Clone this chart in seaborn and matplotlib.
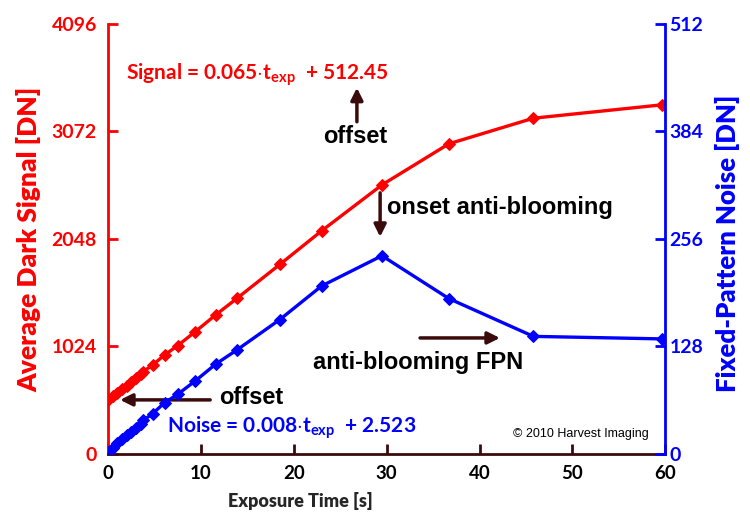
import numpy as np
import pandas as pd
import seaborn as sns
import matplotlib.pyplot as plt

sns.set_style("ticks")
plt.rcParams['font.family'] = ['Lato', 'DejaVu Sans']
plt.rcParams['mathtext.fontset'] = 'custom'
plt.rcParams['mathtext.rm'] = 'Lato:bold'
plt.rcParams['mathtext.bf'] = 'Lato:bold'

# exposure time [s]
t_exp = [0, 0.5, 1, 1.5, 2, 2.5, 3, 3.5, 3.8, 4.8, 6.1, 7.5, 9.4, 11.6, 13.9,
         18.5, 23, 29.5, 36.7, 45.8, 59.6]
# average dark signal [DN]
dark_signal = [512, 548, 583, 618, 652, 687, 722, 757, 784, 848, 943, 1032, 1165,
               1325, 1483, 1805, 2125, 2563, 2954, 3198, 3325]
# fixed-pattern noise [DN]
fpn = [2.5, 7.5, 12.5, 17.5, 22, 26.5, 31, 36, 40, 48, 61, 71, 87, 107, 124,
       160, 200, 236, 185, 140, 137]

x_ticks = [0, 10, 20, 30, 40, 50, 60]
left_ticks = [0, 1024, 2048, 3072, 4096]
right_ticks = [0, 128, 256, 384, 512]

RED = '#ff0000'
BLUE = '#0000ff'
DARK = '#3b0b0b'

df = pd.DataFrame({'t': t_exp, 'signal': dark_signal, 'fpn': fpn})

fig = plt.figure(figsize=(7.5, 5.2), dpi=100)
ax = fig.add_axes([0.144, 0.127, 0.743, 0.827])
ax2 = ax.twinx()

sns.lineplot(data=df, x='t', y='signal', ax=ax, color=RED, marker='D', markersize=6,
             markeredgecolor=RED, linewidth=2.4)
sns.lineplot(data=df, x='t', y='fpn', ax=ax2, color=BLUE, marker='D', markersize=6,
             markeredgecolor=BLUE, linewidth=2.4)

ax.set_xlim(0, 60)
ax.set_ylim(0, 4096)
ax2.set_ylim(0, 512)
ax.set_xticks(x_ticks)
ax.set_yticks(left_ticks)
ax2.set_yticks(right_ticks)

for a in (ax, ax2):
    a.spines['top'].set_visible(False)
ax.spines['right'].set_visible(False)
ax2.spines['left'].set_visible(False)
ax2.spines['bottom'].set_visible(False)
ax.spines['left'].set_color(RED)
ax.spines['left'].set_linewidth(2)
ax2.spines['right'].set_color(BLUE)
ax2.spines['right'].set_linewidth(2)
ax.spines['bottom'].set_color(DARK)
ax.spines['bottom'].set_linewidth(2)

ax.tick_params(axis='y', direction='in', colors=RED, labelsize=14, length=7, width=2, pad=8)
ax2.tick_params(axis='y', direction='in', colors=BLUE, labelsize=14, length=7, width=2, pad=3)
ax.tick_params(axis='x', direction='in', colors=DARK, labelcolor='black', labelsize=13.5,
               length=7, width=2, pad=8)
for lab in ax.get_xticklabels() + ax.get_yticklabels() + ax2.get_yticklabels():
    lab.set_fontweight('bold')

ax.set_xlabel('Exposure Time [s]', fontsize=13, fontweight='heavy')
ax.xaxis.set_label_coords(0.345, -0.088)
ax.set_ylabel('Average Dark Signal [DN]', fontsize=19, fontweight='heavy', color=RED)
ax.yaxis.set_label_coords(-0.12, 0.5)
ax2.set_ylabel('Fixed-Pattern Noise [DN]', fontsize=18.5, fontweight='heavy', color=BLUE,
               rotation=90)
ax2.yaxis.set_label_coords(1.09, 0.49)

arrow = dict(arrowstyle='-|>', lw=2.5, color=DARK, mutation_scale=18, shrinkA=0, shrinkB=0)
ann_font = dict(family=['Liberation Sans', 'DejaVu Sans'], fontweight='bold', fontsize=17)

ax.text(1.9, 3612, r'Signal = 0.065$\cdot$t$_{\mathbf{exp}}$  + 512.45', color=RED,
        fontsize=15, fontweight='bold', ha='left', va='center')
ax.annotate('', xy=(26.8, 3488), xytext=(26.8, 3164), arrowprops=arrow)
ax.text(26.6, 3021, 'offset', color='black', ha='center', va='center', **ann_font)

ax.annotate('', xy=(29.3, 2068), xytext=(29.3, 2487), arrowprops=arrow)
ax.text(30.0, 2344, 'onset anti-blooming', color='black', ha='left', va='center', **ann_font)

ax.annotate('', xy=(42.2, 1105), xytext=(33.6, 1105), arrowprops=arrow)
ax.text(22.1, 867, 'anti-blooming FPN', color='black', ha='left', va='center', **ann_font)

ax.annotate('', xy=(1.3, 515), xytext=(11.0, 515), arrowprops=arrow)
ax.text(12.0, 540, 'offset', color='black', ha='left', va='center', **ann_font)

ax.text(6.3, 248, r'Noise = 0.008$\cdot$t$_{\mathbf{exp}}$  + 2.523', color=BLUE,
        fontsize=15, fontweight='bold', ha='left', va='center')

ax.text(43.6, 190, '\u00a9 2010 Harvest Imaging', color='black', fontsize=9,
        family=['Liberation Sans', 'DejaVu Sans'], ha='left', va='center')

fig.savefig('out.png', dpi=100)
